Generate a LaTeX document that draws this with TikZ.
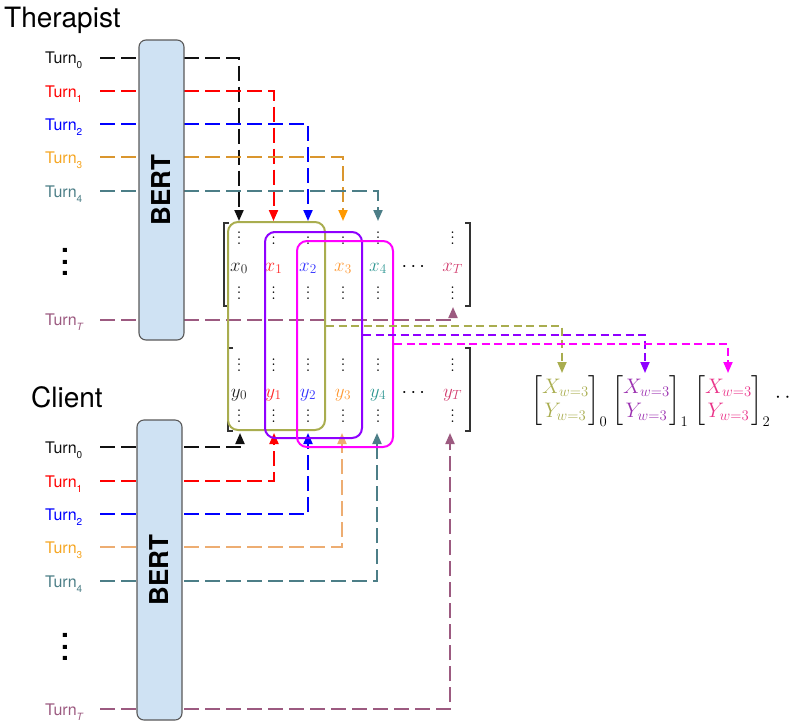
\RequirePackage{fix-cm}
\documentclass[tikz,border=0pt]{standalone}
\usepackage{amsmath}
\usepackage{fontspec}
\newfontfamily\hv{TeX Gyre Heros}
\usetikzlibrary{arrows.meta}
\definecolor{bertblue}{HTML}{CFE2F3}
\definecolor{cA}{HTML}{111111}
\definecolor{cB}{HTML}{FF0000}
\definecolor{cC}{HTML}{0000FF}
\definecolor{cDl}{HTML}{F5A623}
\definecolor{cDt}{HTML}{DA962E}
\definecolor{cDa}{HTML}{FF9900}
\definecolor{cDc}{HTML}{EDAD72}
\definecolor{cE}{HTML}{4C7E87}
\definecolor{cT}{HTML}{9C5A80}
\definecolor{mA}{HTML}{222222}
\definecolor{mB}{HTML}{FF2A2A}
\definecolor{mC}{HTML}{3333FF}
\definecolor{mD}{HTML}{FF9933}
\definecolor{mE}{HTML}{2E9692}
\definecolor{mT}{HTML}{D23C6E}
\definecolor{wA}{HTML}{A9AD4F}
\definecolor{wB}{HTML}{8F00FF}
\definecolor{wC}{HTML}{FF00FF}
\definecolor{oB}{HTML}{9B30B0}
\definecolor{oC}{HTML}{EA3489}
\newcommand{\turnlab}[1]{Turn\raisebox{-5pt}{\fontsize{10}{10}\selectfont #1}}
\newcommand{\vdt}{\vbox{\baselineskip5.5pt\lineskiplimit0pt\hbox{.}\hbox{.}\hbox{.}}}
\begin{document}
\begin{tikzpicture}[x=1pt,y=-1pt,
  dl/.style={line width=2pt, dash pattern=on 15pt off 6pt},
  dk/.style={line width=1.8pt, dash pattern=on 8pt off 4.5pt},
  tip/.style={-{Triangle[length=11pt,width=9pt]}},
  lab/.style={anchor=base west, inner sep=0, font=\hv\fontsize{16}{16}\selectfont},
  bert/.style={draw=black!65, line width=1.1pt, fill=bertblue, rounded corners=7pt, rotate=90,
     minimum width=300pt, minimum height=45pt, inner sep=0, font=\hv\bfseries\fontsize{26}{26}\selectfont},
  ent/.style={inner sep=0, anchor=base, font=\fontsize{19}{19}\selectfont},
  vd/.style={inner sep=0, font=\fontsize{20}{20}\selectfont},
  win/.style={line width=2pt, rounded corners=10pt, inner sep=0},
  brk/.style={line width=1.2pt, draw=black!80},
  big/.style={anchor=base west, inner sep=0, font=\hv\fontsize{28}{28}\selectfont},
  ldots/.style={inner sep=0, align=center, font=\hv\bfseries\fontsize{28}{11.5}\selectfont},
  outm/.style={anchor=west, inner sep=0, font=\fontsize{21}{24}\selectfont}]
\useasboundingbox (0,0) rectangle (791,723);

% start and end points of connectors
\foreach \n/\y in {0/57.5,1/91,2/124,3/157,4/191,T/319.5}{\coordinate (ts\n) at (100,\y);}
\foreach \n/\y in {0/447,1/481,2/514,3/547,4/581,T/709}{\coordinate (cs\n) at (100,\y);}
\foreach \n/\x in {0/239,1/273.5,2/308,3/343,4/378}{\coordinate (xa\n) at (\x,221);}
\coordinate (xaT) at (453,307);
\foreach \n/\x in {0/240,1/274,2/308,3/342,4/377,T/450}{\coordinate (ya\n) at (\x,433);}

% therapist connectors
\draw[dl, cA, tip] (ts0) -| (xa0);
\draw[dl, cB, tip] (ts1) -| (xa1);
\draw[dl, cC, tip] (ts2) -| (xa2);
\draw[dl, cDt, -{Triangle[length=11pt,width=9pt,color=cDa]}] (ts3) -| (xa3);
\draw[dl, cE, tip] (ts4) -| (xa4);
\draw[dl, cT, tip] (tsT) -| (xaT);
% client connectors
\draw[dl, cA, tip] (cs0) -| (ya0);
\draw[dl, cB, tip] (cs1) -| (ya1);
\draw[dl, cC, tip] (cs2) -| (ya2);
\draw[dl, cDc, tip] (cs3) -| (ya3);
\draw[dl, cE, tip] (cs4) -| (ya4);
\draw[dl, cT, tip] (csT) -| (yaT);

% BERT boxes
\node[bert] (bertA) at (161.5,190) {BERT};
\node[bert] (bertB) at (159.5,570) {BERT};

% titles
\node[big] (ther) at (4,27) {Therapist};
\node[big] (cli) at (31,407) {Client};

% turn labels
\node[lab, text=cA] (th0) at (45,63.5) {\turnlab{0}};
\node[lab, text=cB] (th1) at (45,97) {\turnlab{1}};
\node[lab, text=cC] (th2) at (45,130) {\turnlab{2}};
\node[lab, text=cDl] (th3) at (45,163) {\turnlab{3}};
\node[lab, text=cE] (th4) at (45,197) {\turnlab{4}};
\node[ldots] (thd) at (65,262) {.\\.\\.};
\node[lab, text=cT] (thT) at (45,325.5) {\turnlab{\itshape T}};
\node[lab, text=cA] (cl0) at (45,453) {\turnlab{0}};
\node[lab, text=cB] (cl1) at (45,487) {\turnlab{1}};
\node[lab, text=cC] (cl2) at (45,520) {\turnlab{2}};
\node[lab, text=cDl] (cl3) at (45,553) {\turnlab{3}};
\node[lab, text=cE] (cl4) at (45,587) {\turnlab{4}};
\node[ldots] (cld) at (65,647) {.\\.\\.};
\node[lab, text=cT] (clT) at (45,715) {\turnlab{\itshape T}};

% matrices
\foreach \cx/\nm/\col in {239/0/mA, 273.5/1/mB, 308/2/mC, 343/3/mD, 378/4/mE, 452.5/T/mT}{
  \node[ent, text=\col] (x\nm) at (\cx,271) {$x_{\nm}$};
  \node[ent, text=\col] (y\nm) at (\cx,397) {$y_{\nm}$};
  \node[vd] (xu\nm) at (\cx,238) {\vdt};
  \node[vd] (xd\nm) at (\cx,293) {\vdt};
  \node[vd] (yu\nm) at (\cx,365) {\vdt};
  \node[vd] (yd\nm) at (\cx,416) {\vdt};
}
\node[vd] (xdots) at (415,267) {$\cdots$};
\node[vd] (ydots) at (415,393) {$\cdots$};
\draw[brk] (229,223) -- (224,223) -- (224,306) -- (229,306);
\draw[brk] (465,223) -- (470,223) -- (470,306) -- (465,306);
\draw[brk] (233,348) -- (228,348) -- (228,431) -- (233,431);
\draw[brk] (465,348) -- (470,348) -- (470,431) -- (465,431);

% windows
\node[win, draw=wA, minimum width=97pt, minimum height=208pt] (w0) at (276.5,326) {};
\node[win, draw=wB, minimum width=97pt, minimum height=206pt] (w1) at (313.5,335) {};
\node[win, draw=wC, minimum width=96pt, minimum height=206pt] (w2) at (345,344) {};

% outputs
\coordinate (oa0) at (562,373);
\coordinate (oa1) at (645,373);
\coordinate (oa2) at (728,373);
\draw[dk, wA, tip] (w0.east) -| (oa0);
\draw[dk, wB, tip] (w1.east) -| (oa1);
\draw[dk, wC, tip] (w2.east) -| (oa2);
\node[outm] (o0) at (531,401) {$\begin{bmatrix}{\color{wA}X_{w=3}}\\{\color{wA}Y_{w=3}}\end{bmatrix}_0$};
\node[outm] (o1) at (612,401) {$\begin{bmatrix}{\color{oB}X_{w=3}}\\{\color{oB}Y_{w=3}}\end{bmatrix}_1$};
\node[outm] (o2) at (694,401) {$\begin{bmatrix}{\color{oC}X_{w=3}}\\{\color{oC}Y_{w=3}}\end{bmatrix}_2$};
\node[outm] (odots) at (775,398) {$\cdots$};
\end{tikzpicture}
\end{document}
